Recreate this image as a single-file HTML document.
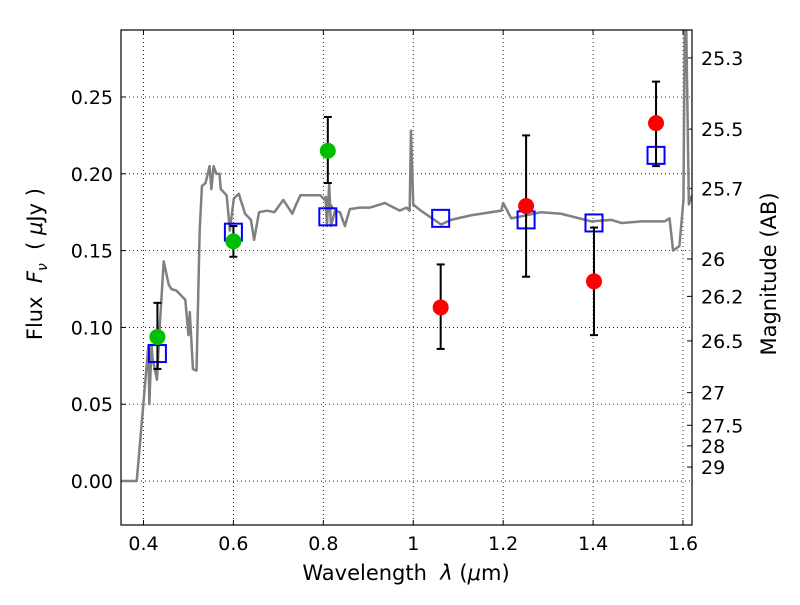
<!DOCTYPE html>
<html><head><meta charset="utf-8"><style>
body{margin:0;background:#fff;width:800px;height:600px;overflow:hidden}
svg text{font-family:"DejaVu Sans","Liberation Sans",sans-serif;fill:#000}
</style></head><body>
<svg id="chart" width="800" height="600"></svg>
<script>
const xTicks=[0.4,0.6,0.8,1.0,1.2,1.4,1.6];
const xTickLabels=["0.4","0.6","0.8","1","1.2","1.4","1.6"];
const yTicks=[0,0.05,0.10,0.15,0.20,0.25];
const yTickLabels=["0.00","0.05","0.10","0.15","0.20","0.25"];
const magTicks=[25.3,25.5,25.7,26,26.2,26.5,27,27.5,28,29];
const specWave=[0.35,0.385,0.411,0.413,0.418,0.42,0.43,0.436,0.445,0.456,0.462,0.473,0.493,0.5,0.503,0.51,0.516,0.518,0.525,0.53,0.538,0.547,0.551,0.556,0.562,0.569,0.572,0.585,0.59,0.592,0.601,0.612,0.626,0.639,0.646,0.657,0.675,0.691,0.711,0.731,0.738,0.749,0.793,0.82,0.805,0.808,0.813,0.817,0.826,0.837,0.848,0.859,0.881,0.904,0.937,0.97,0.985,0.992,0.995,1.0,1.017,1.062,1.084,1.129,1.196,1.2,1.218,1.285,1.329,1.396,1.441,1.463,1.508,1.559,1.57,1.578,1.592,1.601,1.604,1.607,1.613,1.62];
const specFlux=[0,0,0.0885,0.05,0.0885,0.08,0.066,0.10,0.143,0.128,0.125,0.124,0.118,0.095,0.110,0.073,0.072,0.072,0.163,0.192,0.194,0.205,0.190,0.205,0.200,0.200,0.190,0.186,0.170,0.163,0.184,0.187,0.174,0.170,0.157,0.175,0.176,0.175,0.183,0.174,0.179,0.186,0.186,0.178,0.185,0.166,0.193,0.166,0.176,0.175,0.166,0.177,0.178,0.178,0.181,0.176,0.178,0.176,0.228,0.180,0.176,0.167,0.170,0.173,0.176,0.181,0.171,0.175,0.174,0.169,0.170,0.168,0.169,0.169,0.171,0.150,0.153,0.183,0.30,0.30,0.18,0.186];
const greenWave=[0.431,0.600,0.810];
const greenFlux=[0.0938,0.156,0.215];
const greenLo=[0.073,0.146,0.194];
const greenHi=[0.116,0.166,0.237];
const redWave=[1.061,1.251,1.402,1.540];
const redFlux=[0.113,0.179,0.130,0.233];
const redLo=[0.086,0.133,0.095,0.205];
const redHi=[0.141,0.225,0.165,0.260];
const modelWave=[0.431,0.600,0.810,1.061,1.251,1.402,1.540];
const modelFlux=[0.083,0.162,0.172,0.171,0.170,0.168,0.212];

const L=121,R=692,T=30,B=525,x0=0.35,x1=1.62,y0=-0.0286,y1=0.2936;
const sx=v=>L+(v-x0)/(x1-x0)*(R-L);
const sy=v=>B-(v-y0)/(y1-y0)*(B-T);
const svg=document.getElementById('chart');
const NS='http://www.w3.org/2000/svg';
function mk(tag,attrs,parent){const e=document.createElementNS(NS,tag);for(const k in attrs)e.setAttribute(k,attrs[k]);(parent||svg).appendChild(e);return e;}
const defs=mk('defs',{});const cp=mk('clipPath',{id:'clip'},defs);mk('rect',{x:L,y:T,width:R-L,height:B-T},cp);

const grid=mk('g',{});


xTicks.forEach((v,i)=>{
 mk('line',{x1:sx(v),x2:sx(v),y1:T,y2:B,stroke:'#000','stroke-width':0.8,'stroke-dasharray':'1,3'},grid);
 mk('line',{x1:sx(v),x2:sx(v),y1:B,y2:B-5,stroke:'#000'});mk('line',{x1:sx(v),x2:sx(v),y1:T,y2:T+5,stroke:'#000'});
 const t=mk('text',{x:sx(v),y:B+25,'text-anchor':'middle','font-size':19});t.textContent=xTickLabels[i];
 
 
});
yTicks.forEach((v,i)=>{
 mk('line',{x1:L,x2:R,y1:sy(v),y2:sy(v),stroke:'#000','stroke-width':0.8,'stroke-dasharray':'1,3'},grid);
 mk('line',{x1:L,x2:L+5,y1:sy(v),y2:sy(v),stroke:'#000'});
 const t=mk('text',{x:L-8,y:sy(v)+7,'text-anchor':'end','font-size':19});t.textContent=yTickLabels[i];
 
 
});
magTicks.forEach(m=>{
 const f=Math.pow(10,(23.9-m)/2.5);const y=sy(f);
 mk('line',{x1:R,x2:R-5,y1:y,y2:y,stroke:'#000'});
 const t=mk('text',{x:R+9,y:y+7,'font-size':19});t.textContent=String(m);
 
 
});

const plot=mk('g',{'clip-path':'url(#clip)'});
const sp=mk('polyline',{points:specWave.map((w,i)=>sx(w)+','+sy(specFlux[i])).join(' '),fill:'none',stroke:'#808080','stroke-width':2.5,'stroke-linejoin':'round'},plot);



function errbar(w,lo,hi){mk('line',{x1:sx(w),x2:sx(w),y1:sy(lo),y2:sy(hi),stroke:'#000','stroke-width':2},plot);
 [lo,hi].forEach(v=>mk('line',{x1:sx(w)-4,x2:sx(w)+4,y1:sy(v),y2:sy(v),stroke:'#000','stroke-width':2},plot));}
modelWave.forEach((w,i)=>{const r=mk('rect',{x:sx(w)-8.5,y:sy(modelFlux[i])-8.5,width:17,height:17,fill:'none',stroke:'#0000ff','stroke-width':2},plot);
 
 });
greenWave.forEach((w,i)=>{errbar(w,greenLo[i],greenHi[i]);const c=mk('circle',{cx:sx(w),cy:sy(greenFlux[i]),r:8,fill:'#00bf00'},plot);
 
 });
redWave.forEach((w,i)=>{errbar(w,redLo[i],redHi[i]);const c=mk('circle',{cx:sx(w),cy:sy(redFlux[i]),r:8,fill:'#ff0000'},plot);
 
 });

const fr=mk('rect',{x:L,y:T,width:R-L,height:B-T,fill:'none',stroke:'#000','stroke-width':1.2});


</script>
<div style="position:absolute;left:0;width:812px;top:561px;text-align:center;font:21px 'DejaVu Sans',sans-serif">Wavelength&nbsp; <i>λ</i> (<i>μ</i>m)</div>
<div style="position:absolute;left:-63px;top:250px;width:200px;text-align:center;transform:rotate(-90deg);font:21px 'DejaVu Sans',sans-serif">Flux&nbsp; <i>F<sub style="font-size:14px">ν</sub></i>&nbsp; ( <i>μ</i>Jy )</div>
<div style="position:absolute;left:669px;top:262px;width:200px;text-align:center;transform:rotate(-90deg);font:21px 'DejaVu Sans',sans-serif">Magnitude (AB)</div>
</body></html>
